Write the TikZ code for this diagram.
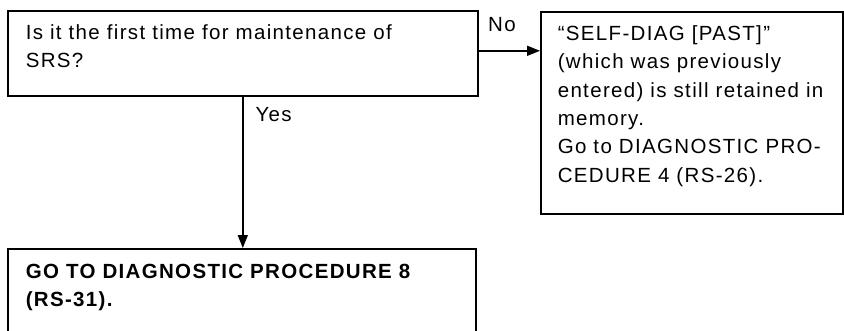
\documentclass[tikz,border=0pt]{standalone}
\usepackage{fontspec}
\setmainfont{Liberation Sans}[LetterSpace=6.5]
\usetikzlibrary{positioning, arrows.meta}

\begin{document}
\begin{tikzpicture}[
    x=1pt, y=-1pt,
    line width=1.6pt,
    box/.style={
        draw,
        anchor=north west,
        inner xsep=18pt,
        inner ysep=14pt,
        font=\fontsize{20.5}{28.3}\selectfont
    },
    arrow/.style={-{Triangle[length=13pt, width=10pt]}},
    lbl/.style={inner sep=0pt, font=\fontsize{20.5}{22}\selectfont}
]
\clip (0,0) rectangle (844,330);

\node[box] (first) at (7,10) {\parbox[t][57pt][t]{434pt}{\raggedright
    Is it the first time for maintenance of\\
    SRS?}};
\node[box, inner xsep=17pt] (past) at (540,11) {\parbox[t][174pt][t]{268pt}{\raggedright
    “SELF-DIAG [PAST]”\\
    (which was previously\\
    entered) is still retained in\\
    memory.\\
    Go to DIAGNOSTIC PRO-\\
    CEDURE 4 (RS-26).}};
\node[box, inner ysep=15pt] (proc) at (7,248) {\parbox[t][67pt][t]{432pt}{\raggedright\bfseries
    GO TO DIAGNOSTIC PROCEDURE 8\\
    (RS-31).}};

\draw[arrow] ([yshift=2.5pt]first.east) -- ([yshift=2.5pt]first.east -| past.west)
    node[pos=0.38, above=18pt, lbl] (no) {No};
\draw[arrow] (first.south) -- (first.south |- proc.north)
    node[pos=0, anchor=north west, lbl, xshift=12pt, yshift=-10pt] (yes) {Yes};

\end{tikzpicture}
\end{document}
